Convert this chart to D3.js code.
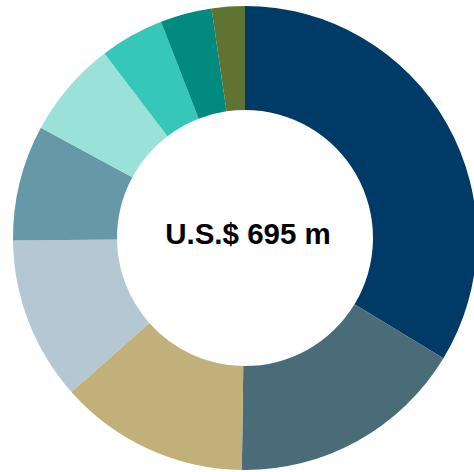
<!DOCTYPE html>
<html>
<head>
<meta charset="utf-8">
<script src="https://cdn.jsdelivr.net/npm/d3@7"></script>
<style>
  html, body { margin: 0; padding: 0; background: #ffffff; overflow: hidden; }
  svg { display: block; }
</style>
</head>
<body>
<svg id="chart" width="474" height="472"></svg>
<script>
// Segment values in U.S.$ millions, clockwise from 12 o'clock
const segments = ["A", "B", "C", "D", "E", "F", "G", "H", "I"];
const values = [234, 115, 92, 79, 56, 47, 31, 25, 16];
const colors = ["#003a66", "#4a6b78", "#c2b07a", "#b5c7d3", "#6699a8", "#9ae2d9", "#36c7b9", "#008b7e", "#5f7333"];
const centerLabel = "U.S.$ 695 m";

const svg = d3.select("#chart");
const cx = 245, cy = 238;
const outerR = 232, innerR = 128;

const pie = d3.pie().sort(null).value(d => d.value);
const arc = d3.arc().innerRadius(innerR).outerRadius(outerR);

const data = segments.map((s, i) => ({ name: s, value: values[i] }));
const color = d3.scaleOrdinal().domain(segments).range(colors);

const g = svg.append("g").attr("transform", `translate(${cx},${cy})`);

g.selectAll("path")
  .data(pie(data))
  .join("path")
  .attr("d", arc)
  .attr("fill", d => color(d.data.name));

g.append("text")
  .attr("x", 3)
  .attr("y", 6)
  .attr("text-anchor", "middle")
  .attr("font-family", "'Liberation Sans', Arial, sans-serif")
  .attr("font-weight", "bold")
  .attr("font-size", 29.5)
  .attr("fill", "#000")
  .text(centerLabel);
</script>
</body>
</html>
